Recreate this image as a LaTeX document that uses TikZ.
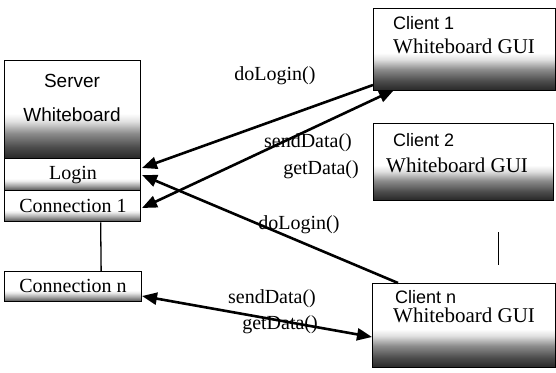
\documentclass[tikz,border=0pt]{standalone}
\usepackage{fontspec}
\setmainfont{Liberation Serif}
\newfontfamily\arialfont{Liberation Sans}
\usetikzlibrary{arrows.meta}

% dark, grainy base of each box: white above, darkening towards the bottom edge
% (the box itself spans 25bp..75bp of the shading)
\pgfdeclareverticalshading{darkbase}{100bp}{%
  color(0bp)=(black!85); color(25bp)=(black!85); color(31bp)=(black!70);
  color(38bp)=(black!45); color(44bp)=(black!12); color(48bp)=(white);
  color(100bp)=(white)}
\pgfdeclareverticalshading{lightbase}{100bp}{%
  color(0bp)=(black!70); color(25bp)=(black!70); color(33bp)=(black!35);
  color(40bp)=(black!8); color(44bp)=(white); color(100bp)=(white)}

\tikzset{
  box/.style={draw, line width=1.3pt, inner sep=0pt, anchor=north west},
  darkbox/.style={box, shading=darkbase},
  lightbox/.style={box, shading=lightbase},
  sanslab/.style={font=\arialfont\fontsize{18}{20}\selectfont, inner sep=0pt},
  seriflab/.style={font=\fontsize{21}{23}\selectfont, inner sep=0pt},
  msg/.style={font=\fontsize{20}{22}\selectfont, inner sep=0pt},
  link/.style={line width=2.6pt},
  tip/.style={-{Triangle[length=15pt,width=12pt]}},
  bothtips/.style={{Triangle[length=15pt,width=12pt]}-{Triangle[length=15pt,width=12pt]}}
}

\begin{document}
\begin{tikzpicture}[x=1pt, y=-1pt]
\useasboundingbox (0,0) rectangle (556,372);

% server side
\node[darkbox, minimum width=136pt, minimum height=98pt] (server) at (4,60) {};
\node[lightbox, minimum width=136pt, minimum height=32pt] (login) at (4,158) {};
\node[lightbox, minimum width=136pt, minimum height=31pt] (conn1) at (4,190) {};
\node[lightbox, minimum width=137pt, minimum height=30pt] (connn) at (4,271) {};

\node[sanslab, font=\arialfont\fontsize{19}{21}\selectfont] (srvA) at (72,81) {Server};
\node[sanslab, font=\arialfont\fontsize{19}{21}\selectfont] (srvB) at (72,115) {Whiteboard};
\node[seriflab, font=\fontsize{20}{22}\selectfont] (loginT) at (73,175) {Login};
\node[seriflab, font=\fontsize{20}{22}\selectfont] (conn1T) at (73,206) {Connection 1};
\node[seriflab, font=\fontsize{20}{22}\selectfont] (connnT) at (73,286) {Connection n};

\draw[line width=1.3pt] ([xshift=28pt]conn1.south) -- ([xshift=28pt]connn.north);

% clients
\node[darkbox, minimum width=182pt, minimum height=82pt] (cl1) at (373,8) {};
\node[darkbox, minimum width=180pt, minimum height=77pt] (cl2) at (373,123) {};
\node[darkbox, minimum width=183pt, minimum height=84pt] (cln) at (372,283) {};

\node[sanslab, anchor=west] (cl1A) at (393,23) {Client 1};
\node[seriflab, anchor=west] (cl1B) at (393,46) {Whiteboard GUI};
\node[sanslab, anchor=west] (cl2A) at (393,140) {Client 2};
\node[seriflab, anchor=west] (cl2B) at (386,165) {Whiteboard GUI};
\node[sanslab, anchor=west] (clnA) at (395,297) {Client n};
\node[seriflab, anchor=west] (clnB) at (393,315) {Whiteboard GUI};

% the "more clients" marker below client 2
\draw[line width=1.3pt] ([xshift=35pt]cl2.south |- 0,232) coordinate (dotsA) -- ([xshift=35pt]cl2.south |- 0,265) coordinate (dotsB);

% connector end points on the box borders
\coordinate (pA1) at (373,85);
\coordinate (pA2) at (142,168);
\coordinate (pB1) at (394,90);
\coordinate (pB2) at (142,208);
\coordinate (pC1) at (398,283);
\coordinate (pC2) at (142,175);
\coordinate (pD1) at (372,337);
\coordinate (pD2) at (142,296);

\draw[link, tip] (pA1) -- (pA2);
\draw[link, bothtips] (pB1) -- (pB2);
\draw[link, tip] (pC1) -- (pC2);
\draw[link, bothtips] (pD2) -- (pD1);

% messages
\node[msg] (m1) at (275,76) {doLogin()};
\node[msg] (m2) at (308,143) {sendData()};
\node[msg] (m3) at (321,170) {getData()};
\node[msg] (m4) at (299,225) {doLogin()};
\node[msg] (m5) at (272,299) {sendData()};
\node[msg] (m6) at (280,325) {getData()};
\end{tikzpicture}
\end{document}
